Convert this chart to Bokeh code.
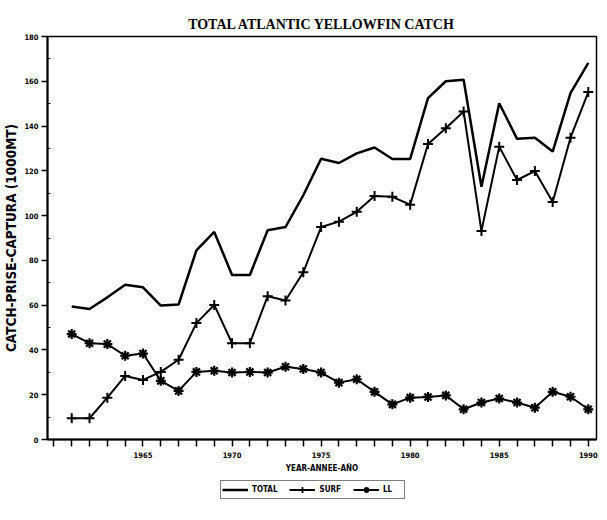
from bokeh.plotting import figure
from bokeh.models import Range1d, FixedTicker, Legend, LegendItem
from bokeh.layouts import column
from bokeh.embed import file_html
from bokeh.resources import INLINE

years = list(range(1961, 1991))
total = [59.4, 58.3, 63.5, 69.1, 68.0, 59.8, 60.3, 84.5, 92.7, 73.5,
         73.5, 93.5, 94.9, 109.1, 125.4, 123.5, 127.8, 130.4, 125.3, 125.3,
         152.5, 160.0, 160.7, 112.9, 150.2, 134.3, 134.8, 128.6, 154.7, 168.2]
surf = [9.5, 9.5, 18.7, 28.4, 26.6, 30.2, 35.6, 52.0, 60.1, 43.0,
        43.0, 64.0, 62.1, 74.7, 94.9, 97.3, 101.7, 108.8, 108.4, 104.9,
        132.0, 139.0, 146.5, 93.1, 130.8, 115.9, 119.9, 106.1, 134.8, 155.2]
ll = [47.1, 43.0, 42.6, 37.4, 38.4, 26.2, 21.7, 30.2, 30.7, 29.9,
      30.2, 29.9, 32.5, 31.5, 29.9, 25.4, 26.9, 21.3, 15.7, 18.7,
      19.0, 19.7, 13.5, 16.5, 18.3, 16.5, 14.2, 21.3, 19.1, 13.5]
series_names = ["TOTAL", "SURF", "LL"]

x_tick_years = list(range(1960, 1991))
x_label_years = [1965, 1970, 1975, 1980, 1985, 1990]
y_ticks = list(range(0, 181, 20))
y_minor = list(range(10, 180, 20))

FONT = "DejaVu Sans Condensed"

p = figure(width=599, height=479, output_backend="svg", toolbar_location=None,
           x_range=Range1d(1959.64, 1990.46), y_range=Range1d(0, 180),
           min_border_left=44, min_border_right=3, min_border_top=36,
           min_border_bottom=40, title="TOTAL ATLANTIC YELLOWFIN CATCH")

p.title.align = "center"
p.title.text_font = "Liberation Serif"
p.title.text_font_style = "bold"
p.title.text_font_size = "14px"
p.title.text_color = "black"

p.grid.visible = False
p.outline_line_color = "black"
p.outline_line_width = 1.5
p.background_fill_color = "white"
p.border_fill_color = "white"

# x axis
p.xaxis.ticker = FixedTicker(ticks=x_tick_years)
p.xaxis.major_label_overrides = {y: ("" if y not in x_label_years else str(y)) for y in x_tick_years}
p.xaxis.major_tick_in = 0
p.xaxis.major_tick_out = 7
p.xaxis.minor_tick_line_color = None
p.xaxis.axis_label = "YEAR-ANNEE-AÑO"

# y axis
p.yaxis.ticker = FixedTicker(ticks=y_ticks, minor_ticks=y_minor)
p.yaxis.major_tick_in = 0
p.yaxis.major_tick_out = 6
p.yaxis.minor_tick_in = 3
p.yaxis.minor_tick_out = 0
p.yaxis.axis_label = "CATCH-PRISE-CAPTURA (1000MT)"

for ax in (p.xaxis, p.yaxis):
    ax.axis_line_width = 2
    ax.axis_line_color = "black"
    ax.major_tick_line_width = 1.5
    ax.major_tick_line_color = "black"
    ax.minor_tick_line_color = "black"
    ax.major_label_text_font = FONT
    ax.major_label_text_font_style = "bold"
    ax.major_label_text_font_size = "7.5px"
    ax.major_label_text_color = "black"
    ax.axis_label_text_font = FONT
    ax.axis_label_text_font_style = "bold"
    ax.axis_label_text_color = "black"

p.xaxis.axis_label_text_font_size = "8px"
p.xaxis.axis_label_standoff = 3
p.xaxis.major_label_standoff = 5
p.yaxis.axis_label_text_font_size = "13.5px"
p.yaxis.axis_label_standoff = 2
p.yaxis.major_label_standoff = 3

p.line(years, total, line_color="black", line_width=2.5)
p.line(years, surf, line_color="black", line_width=2)
p.scatter(years, surf, marker="cross", size=10, line_color="black", line_width=2)
p.line(years, ll, line_color="black", line_width=2)
p.scatter(years, ll, marker="asterisk", size=10, line_color="black", line_width=2.2)

# legend strip below the chart (its renderers hold the same data but lie
# outside this strip's ranges, so only the legend samples show)
lp = figure(width=599, height=25, output_backend="svg", toolbar_location=None,
            x_range=Range1d(0, 1), y_range=Range1d(0, 1),
            min_border=0, x_axis_location=None, y_axis_location=None)
lp.grid.visible = False
lp.outline_line_color = None
lp.background_fill_color = "white"
lp.border_fill_color = "white"

l_total = lp.line(years, total, line_color="black", line_width=2.5)
l_surf = lp.line(years, surf, line_color="black", line_width=2)
s_surf = lp.scatter(years, surf, marker="cross", size=9, line_color="black", line_width=1.8)
l_ll = lp.line(years, ll, line_color="black", line_width=2)
s_ll = lp.scatter(years, ll, marker="asterisk", size=9, line_color="black", line_width=1.8)

legend = Legend(items=[
    LegendItem(label=series_names[0], renderers=[l_total]),
    LegendItem(label=series_names[1], renderers=[l_surf, s_surf]),
    LegendItem(label=series_names[2], renderers=[l_ll, s_ll]),
], orientation="horizontal", location=(173, 5))
legend.border_line_color = "black"
legend.border_line_width = 1.5
legend.label_text_font = FONT
legend.label_text_font_style = "bold"
legend.label_text_font_size = "8px"
legend.label_text_color = "black"
legend.glyph_width = 26
legend.glyph_height = 15
legend.label_height = 12
legend.padding = 1
legend.spacing = 12
legend.margin = 0
legend.label_standoff = 4
legend.background_fill_alpha = 1
lp.add_layout(legend, "center")

layout = column(p, lp, spacing=0)
open("out.html", "w").write(file_html(layout, INLINE))
